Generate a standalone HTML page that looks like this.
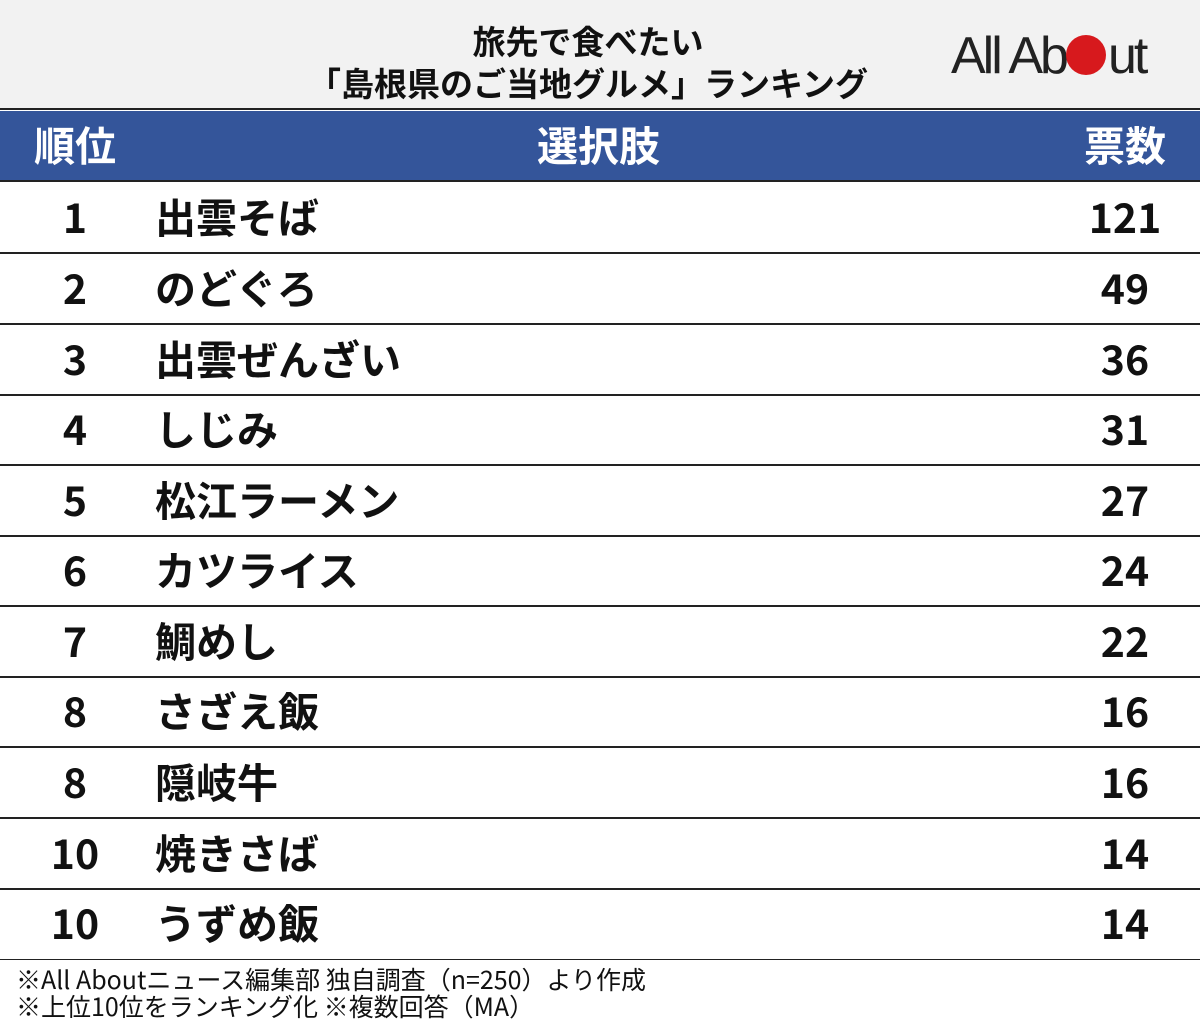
<!DOCTYPE html>
<html><head><meta charset="utf-8"><style>
*{margin:0;padding:0;box-sizing:border-box}
body{width:1200px;height:1032px;background:#fff;font-family:"Liberation Sans","Noto Sans CJK JP",sans-serif;position:relative;overflow:hidden;color:#111}
.top{position:absolute;left:0;top:0;width:1200px;height:110px;background:#f2f2f2;border-bottom:2px solid #222}
.title{position:absolute;left:240px;width:696px;text-align:center;font-weight:bold;font-size:33px;line-height:42px;top:19px;font-family:"Noto Sans CJK JP",sans-serif}
.logo{position:absolute;left:951px;top:28px;font-size:52px;letter-spacing:-3px;color:#222;font-family:"Liberation Sans",sans-serif;line-height:56px}
.logo .o{display:inline-block;width:40px;height:40px;border-radius:50%;background:#d7191d;vertical-align:-2px;margin:0 2px 0 0}
.hdr{position:absolute;left:0;top:111px;width:1200px;height:71px;background:#34559a;border-bottom:2px solid #222;color:#fff;font-weight:bold;font-size:41px;font-family:"Noto Sans CJK JP",sans-serif}
.hdr span{position:absolute;top:6px;line-height:52px}
.row{position:absolute;left:0;width:1200px;height:71px;border-bottom:2px solid #222;font-weight:bold;font-size:41px;font-family:"Noto Sans CJK JP",sans-serif}
.row span{position:absolute;top:4px;line-height:56px}
.r{left:20px;width:110px;text-align:center}
.n{left:155px}
.v{left:1065px;width:120px;text-align:center}
.foot{position:absolute;left:16px;top:966px;font-size:25px;line-height:27px;font-family:"Noto Sans CJK JP",sans-serif;color:#111}
</style></head><body>
<div class="top"><div class="title">旅先で食べたい<br>「島根県のご当地グルメ」ランキング</div>
<div class="logo">All Ab<span class="o"></span>ut</div></div>
<div class="hdr"><span style="left:34px">順位</span><span style="left:537px">選択肢</span><span style="right:34px">票数</span></div>
<div class="row" style="top:183px"><span class="r">1</span><span class="n">出雲そば</span><span class="v">121</span></div>
<div class="row" style="top:254px"><span class="r">2</span><span class="n">のどぐろ</span><span class="v">49</span></div>
<div class="row" style="top:325px"><span class="r">3</span><span class="n">出雲ぜんざい</span><span class="v">36</span></div>
<div class="row" style="top:395px"><span class="r">4</span><span class="n">しじみ</span><span class="v">31</span></div>
<div class="row" style="top:466px"><span class="r">5</span><span class="n">松江ラーメン</span><span class="v">27</span></div>
<div class="row" style="top:536px"><span class="r">6</span><span class="n">カツライス</span><span class="v">24</span></div>
<div class="row" style="top:607px"><span class="r">7</span><span class="n">鯛めし</span><span class="v">22</span></div>
<div class="row" style="top:677px"><span class="r">8</span><span class="n">さざえ飯</span><span class="v">16</span></div>
<div class="row" style="top:748px"><span class="r">8</span><span class="n">隠岐牛</span><span class="v">16</span></div>
<div class="row" style="top:819px"><span class="r">10</span><span class="n">焼きさば</span><span class="v">14</span></div>
<div class="row" style="top:889px;border-bottom-width:1px"><span class="r">10</span><span class="n">うずめ飯</span><span class="v">14</span></div>
<div class="foot">※All Aboutニュース編集部 独自調査（n=250）より作成<br>※上位10位をランキング化 ※複数回答（MA）</div>
</body></html>
